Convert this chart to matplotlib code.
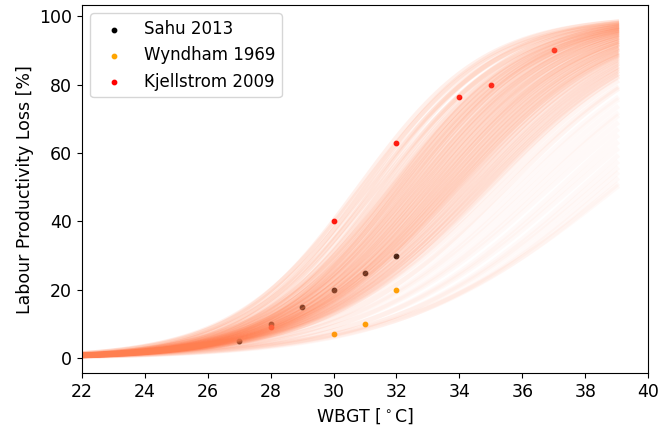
#labour productivity loss vs WBGT
#fan of logistic curves + literature points

import numpy as np
import matplotlib.pyplot as plt

#literature data
sahu_x=[27,28,29,30,31,32]
sahu_y=[5,10,15,20,25,30]
wyndham_x=[30,31,32]
wyndham_y=[7,10,20]
kjell_x=[28,30,32,34,35,37]
kjell_y=[9,40,63,76.5,80,90]

#logistic curve parameters (midpoint [C], slope [1/C])
mid=[30.8,30.9,31.0,31.1,31.2,31.3,31.4,31.5,31.6,31.7,
     31.80,31.86,31.90,31.97,32.01,32.08,32.12,32.17,32.23,32.27,
     32.34,32.38,32.45,32.49,32.55,32.60,32.66,32.70,32.77,32.81,
     32.87,32.92,32.98,33.03,33.08,33.14,33.19,33.24,33.30,33.35,
     33.40,33.46,33.51,33.57,33.61,33.67,33.72,33.78,33.83,33.88,
     33.94,33.99,34.05,34.10,34.15,34.21,34.26,34.31,34.37,34.42,
     34.48,34.53,34.58,34.64,34.69,34.74,34.80,34.85,34.91,34.97,
     35.1,35.3,35.5,35.7,35.9,36.1,36.3,36.5,36.7,36.9,
     37.2,37.4,37.6,37.9,38.1,38.3,38.5,38.7,38.9,39.0]
slope=[0.50,0.48,0.51,0.47,0.49,0.50,0.46,0.48,0.49,0.47,
       0.48,0.46,0.47,0.49,0.45,0.47,0.48,0.46,0.45,0.47,
       0.46,0.47,0.45,0.46,0.44,0.46,0.45,0.44,0.46,0.43,
       0.45,0.44,0.43,0.45,0.42,0.44,0.43,0.42,0.44,0.42,
       0.43,0.41,0.43,0.42,0.41,0.42,0.40,0.42,0.41,0.40,
       0.41,0.40,0.41,0.39,0.40,0.41,0.39,0.40,0.39,0.38,
       0.40,0.39,0.38,0.39,0.38,0.37,0.39,0.38,0.37,0.38,
       0.37,0.36,0.37,0.35,0.36,0.35,0.34,0.35,0.34,0.33,
       0.34,0.33,0.32,0.33,0.32,0.31,0.32,0.31,0.30,0.29]

plt.rcParams['font.size']=12.5

fig,ax=plt.subplots(figsize=(6.6,4.29),dpi=100)
fig.subplots_adjust(left=0.124,right=0.982,top=0.988,bottom=0.13)

ax.scatter(sahu_x,sahu_y,s=10,color='k',label='Sahu 2013',zorder=1)
ax.scatter(wyndham_x,wyndham_y,s=10,color='orange',label='Wyndham 1969',zorder=1)
ax.scatter(kjell_x,kjell_y,s=10,color='red',label='Kjellstrom 2009',zorder=1)

t=np.linspace(22,39,200)
for m,k in zip(mid,slope):
    loss=100./(1.+np.exp(-k*(t-m)))
    #fade the late curves so the fan thins out gradually
    if m<34.0:
        a=0.11
    elif m<35.6:
        a=0.07
    else:
        a=0.04
    ax.plot(t,loss,color='coral',alpha=a,linewidth=3.5,zorder=2)

ax.set_xlim(22,40)
ax.set_xticks(range(22,41,2))
ax.set_xlabel(r'WBGT [$^\circ$C]')
ax.set_ylabel('Labour Productivity Loss [%]')
ax.legend(loc='upper left',fontsize=12)

fig.savefig('out.png',dpi=100)
